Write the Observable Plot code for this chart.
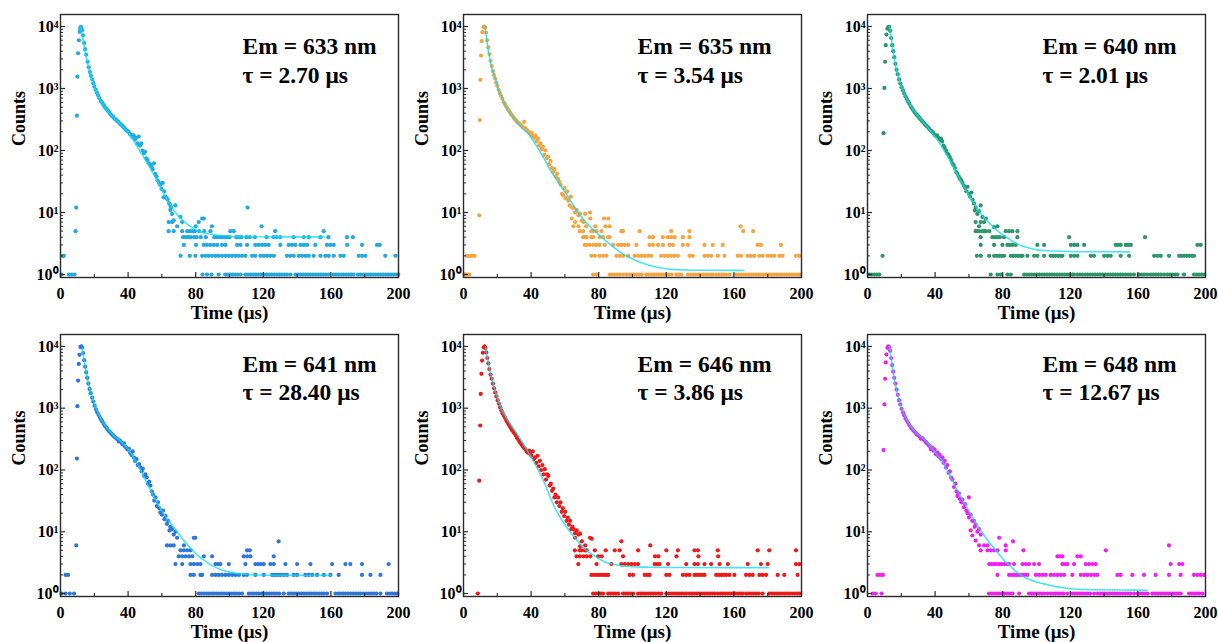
<!DOCTYPE html>
<html><head><meta charset="utf-8">
<script src="https://cdn.jsdelivr.net/npm/d3@7"></script>
<script src="https://cdn.jsdelivr.net/npm/@observablehq/plot@0.6"></script>
<style>
body{margin:0;background:#fff;}
#wrap{position:relative;width:1218px;height:642px;overflow:hidden;background:#fff;}
.panel{position:absolute;}
</style></head><body><div id="wrap"></div>
<script>
// ---------- tick values / labels ----------
const xTicks = [0, 40, 80, 120, 160, 200];
const xMinor = [20, 60, 100, 140, 180];
const yTicks = [1, 10, 100, 1000, 10000];
const yTickLabels = ["10⁰", "10¹", "10²", "10³", "10⁴"];
const yMinor = [2,3,4,5,6,7,8,9,20,30,40,50,60,70,80,90,200,300,400,500,600,700,800,900,2000,3000,4000,5000,6000,7000,8000,9000];

// ---------- panel labels ----------
const emissions = ["633", "635", "640", "641", "646", "648"];
const lifetimes = ["2.70", "3.54", "2.01", "28.40", "3.86", "12.67"];
const colors = ["#22a9e1", "#f7a440", "#2c966a", "#2e76d9", "#f01818", "#f020f0"];

// ---------- Em = 633 nm ----------
const decay633 = [[8.9,5],[9.3,12],[9.7,365],[10,1550],[10.4,3700],[10.9,6000],[11.3,8200],[11.7,9300],[12,9900],[12.4,9500],[12.8,8700],
[13.3,7200],[14,5400],[14.6,4300],[15.2,3500],[16,2700],[16.7,2200],[17.4,1850],[18,1600],[18.7,1400],[19.4,1220],[20,1080],[20.8,960],[21.5,860],[22.2,780],[23,700],[23.8,630],[24.5,600],[25.3,550],[26,515],[26.8,480],[27.5,460],[28.3,430],[29,405],[29.8,380],[30.5,360],[31.3,345],[32,325],[32.8,315],[33.5,300],[34.3,290],[35,270],[35.8,262],[36.5,250],[37.3,238],[38,228],[38.8,215],[39.5,205],[40.3,200],[41,185],[41.8,178],[42.5,165],[43.3,175],[44,150],[44.8,160],[45.5,130],[46.3,168],[47,120],[47.8,130],[48.5,100],[49.3,90],[50,95],[50.8,75],[51.5,70],[52.3,62],[53,60],[53.8,55],[54.5,50],[55.3,62],[56,42],[56.8,38],[57.5,33],[58.3,30],[59,28],[59.8,24],[60.5,30],[61.3,22],[62,18],[62.8,17],[63.5,16],[64.3,14],[65,13],[65.5,12],
[61,17.6],[65,11],[66,9.5],[68,13],[71,8.5],[64,7],[66,7],[67,7.5],[69,6],[72,7],[80,6],[81.8,7],[83.8,8],[84.8,8],[89.6,6],[110.7,12],[119,6]];
const fit633 = [[12,9800],[13,6800],[14,4800],[15,3500],[16,2600],[17,2000],[18,1600],[19,1300],[20,1080],[22,800],[24,620],[26,510],[28,430],[31,350],[34,290],[37,240],[40,195],[43,148],[46,108],[48,88],[51,65],[54,47],[57,33],[60,23],[63,16.5],[66,12],[69,9.3],[72,7.6],[75,6.5],[78,5.7],[81,5.1],[84,4.75],[88,4.5],[93,4.3],[100,4.15],[110,4.08],[130,4.05],[156,4.05]];
const ones633 = [0.6,4.9,6.5,8.3,84,86.7,89.3,93.6,97.5,99,100.5,102,103.5,105,106.5,109.4,111,112.5,114,115.5,117,118.5,120.2,122,123.5,125,126.5,128,129.5,131,132.5,134,136,139,140.5,142,143.5,145,146.5,148,149.5,151,152.5,154,155.5,157,158.5,161.6,163,164.5,166,167.5,169,170.5,172,173.4,176,177.5,179,180.5,182,183.5,185,186.5,188,189.5,191,192.5,194,195.5,197,198.5,199.8];
const twos633 = [1.2,2,71,76.5,79.8,83.8,85.8,87.7,89.7,91.7,93.6,95.6,97.6,99.6,101.5,103.5,105.5,107.4,109.4,113.4,115.3,118.3,120.3,122.2,124.2,126.2,134,136,138,141,143,145,146.9,149.8,153.8,156.7,158.7,161.7,165.6,167.6,176.5,178.4,180.4,192.2,198.2];
const threes633 = [73,80.2,84.8,86.7,88.7,90.7,92.7,95.6,97.6,104.5,106.5,110.4,115.3,117.3,119.3,121.2,123.2,130.1,135,137,139,142,144,145.9,150.8,157.7,159.7,161.7,169.6,178.4,187.3,188.9];
const fours633 = [72.5,74,75.5,77,79,80.5,83,86,91,92.5,94,95.5,97,98.5,100,104,105.5,107,110,112,115,122,126,128,130,138,144,147,153.8,158.5,169.5,173];
const fives633 = [64,67,72,75,76.5,78,79.5,82,85,88.7,100.5,102.5,127,155.7];

// ---------- Em = 635 nm ----------
const decay635 = [[9.3,9],[9.7,310],[10,1380],[10.4,3400],[10.8,5800],[11.2,8100],[11.8,9800],[12.4,10000],[12.8,9600],
[13.4,8000],[14,6000],[14.7,4600],[15.3,3600],[16,2800],[16.7,2300],[17.4,1900],[18,1650],[18.7,1450],[19.4,1250],[20,1100],[20.8,950],[21.5,840],[22.2,760],[23,680],[23.8,600],[24.5,560],[25.3,510],[26,470],[26.8,440],[27.5,410],[28.3,380],[29,360],[29.8,335],[30.5,320],[31.3,300],[32,285],[32.8,275],[33.5,262],[34.3,250],[35,240],[35.8,290],[36.5,230],[37.3,215],[38,205],[38.8,195],[39.5,185],[40.3,195],[41,170],[41.8,160],[42.5,175],[43.3,140],[44,155],[44.8,120],[45.5,130],[46.3,105],[47,115],[47.8,85],[48.5,100],[49.3,75],[50,80],[50.8,60],[51.5,68],[52.3,52],[53,45],[53.8,50],[54.5,38],[55.3,42],[56,35],[56.8,31],[57.5,28],[58.3,20],[59,19],[59.8,25],[60.5,17],[61.3,22],[62,15.6],[62.8,13],[63.5,18],[64.3,12],[65,12],[66,10],[67,11],[68,9],[69,9.5],[70,7.4],[72,9.5],
[64,8],[75,8],[83.2,8],[85.6,8],[66,7],[71,7],[65,6],[68,6],[72.5,6],[78,6],[84,6],[86.5,6],[164,6],[74.9,10]];
const fit635 = [[12.8,9900],[14,5500],[15.8,2800],[17,2000],[18.7,1500],[20.5,1000],[22.7,720],[24.5,560],[26.6,440],[29.5,340],[32.5,270],[35.5,220],[38.4,186],[40.5,155],[42.4,128],[45,98],[48.3,69],[51,50],[54.2,37],[57,28],[60,21.5],[63,16],[66,12],[69,9],[71.9,7.2],[75,5.9],[77.8,5],[80.5,4.3],[83.7,3.6],[86.5,3.1],[89.7,2.65],[92.5,2.3],[95.6,2.05],[99,1.85],[103.4,1.62],[108,1.46],[113.3,1.33],[118,1.26],[123.2,1.21],[130,1.19],[140,1.17],[150,1.17],[166,1.16]];
const ones635 = [0.6,1.5,2.5,3.5,76.7,78.7,86.5,88,89.5,91,92.5,94.4,96.4,98,99.5,101,102.5,104,105.5,108.2,109.7,111.2,112.7,114.1,115.6,117.1,118.6,120.1,121.6,123.1,125.9,127.4,128.9,132.8,134.3,135.8,137.3,138.8,140.3,141.8,143.3,144.8,146.3,147.5,149.5,151,152.5,154,155.5,157.4,161.3,162.8,164.3,165.8,167.3,168.8,170.3,171.8,173.3,174.8,176.3,177.8,179.3,180.8,182.3,183.8,185.3,186.8,188.3,189.8,191.3,192.8,194.3,195.8,197.3,198.7];
const twos635 = [2,3,4,5,6.5,75.7,77.7,80.6,82.6,84.6,90.5,92.4,94.4,97.4,101.3,103.3,105.2,107.2,109.2,111.1,117,119,121,122.9,124.9,126.9,133.7,135.7,142.6,144.6,146.5,150.5,154.4,162.3,164.2,168.2,170.1,172.1,175,177,180,182,183.9,186.9,188.8,196.7,198.7];
const threes635 = [71.8,72.8,74.7,76.7,78.7,80.6,83.6,88.5,91.5,93.4,95.4,97.4,102.3,110.1,112.1,115.1,118,121.9,123.9,129.8,132.8,142.6,147.5,153.4,174.1,176,187.8];
const fours635 = [70.8,71.8,72.8,75.7,76.7,80.6,82.6,85.6,86.5,110.1,112.1,118,121,122.9,124.9,129.8,133.7];
const fives635 = [68.8,70.8,75.7,76.7,78.7,81.6,93.4,94.4,104.2,122.9,133.7,165.5,171.4];

// ---------- Em = 640 nm ----------
const decay640 = [[9.5,190],[10,1020],[10.4,2700],[10.8,5000],[11.2,7400],[11.8,9200],[12.3,9800],[12.8,9900],
[13.4,8500],[14,6500],[14.6,5000],[15.2,4000],[15.8,3200],[16.5,2500],[17.2,2000],[17.9,1700],[18.7,1400],[19.4,1200],[20.2,1050],[21,930],[21.7,830],[22.5,750],[23.2,680],[24,620],[24.7,570],[25.5,520],[26.2,485],[27,450],[27.7,420],[28.5,395],[29.2,375],[30,355],[30.7,335],[31.5,315],[32.2,300],[33,285],[33.7,270],[34.5,255],[35.2,245],[36,232],[36.7,220],[37.5,210],[38.2,200],[39,190],[39.7,178],[40.5,172],[41.2,175],[42,160],[42.7,150],[43.5,155],[44.2,140],[45,120],[45.7,110],[46.5,100],[47.2,90],[48,85],[48.7,78],[49.5,70],[50.2,62],[51,58],[51.7,52],[52.5,45],[53.2,42],[54,38],[54.7,35],[55.5,33],[56.2,30],[57,27],[57.7,25],[58.5,22],[59.2,26],[60,20],[60.7,18],[61.5,21],[62.2,16],[63,14],[63.5,10.8],[64,12],[65,9.5],[66,10.5],[67,13],[68,8.5],[70,8],
[66,6],[76.9,6],[67,7],[69,7],[64,7],[74.9,5.8]];
const fit640 = [[12.8,9900],[13.4,8800],[14.5,5200],[15.8,3200],[17,2100],[18.7,1400],[21,930],[23.6,650],[26.5,480],[29.6,370],[32.5,295],[35.5,238],[38,195],[40.4,162],[43,128],[45.3,100],[48,75],[51.2,52],[54,37],[57.1,26],[60,19],[63,14],[66,10.5],[69,8.3],[72,6.8],[74.9,5.7],[78,4.8],[82.8,3.9],[86,3.4],[90.6,2.95],[95,2.7],[100.5,2.5],[107,2.42],[114.3,2.37],[130,2.33],[155,2.32]];
const ones640 = [1,2.5,4,5.5,7,72.9,76.9,78.9,82.8,84.8,92.7,94.2,95.7,97.2,98.7,100.2,101.7,103.2,104.7,106.2,107.7,109.2,110.7,112.2,113.7,115.2,116.7,118.2,119.7,121.2,122.2,124.2,125.7,127.2,128.7,130.2,131.7,133.2,134.7,136.2,137.7,139.2,140.7,142.2,143.7,145.2,146.7,148.2,149.7,151.2,152.7,154.2,155.7,157.7,160.7,162.2,163.7,165.6,167.6,169.1,170.6,172.1,173.6,175.5,177.5,179,180.5,182,183.4,187.3,193.2,194.7,196.2,197.7,199.1];
const twos640 = [8.9,64.7,67,72,74.9,76.4,77.9,79.4,80.8,84.8,86.3,87.8,89.3,90.8,91.7,94.6,98.6,100.5,104.5,108.4,109.9,111.4,112.9,114.4,115.3,120.3,122.3,124.2,132.1,134,140,142,143.9,149.8,154.8,169.6,171.6,173.5,178.4,184.4,185.9,187.4,188.9,190.4,191.9,193.2];
const threes640 = [67,74.9,79.8,82.8,84.3,85.8,87.7,100.5,104.5,120.3,122.3,124.2,128.2,146.9,148.4,149.8,152.8,154.3,155.8,195.2,197.2];
const fours640 = [67,73.9,75.4,76.9,78.4,80.8,88.7,119.3,164.2];
const fives640 = [64,65,66,68,69,70,72,81.8,83.7,85.7,88.7];

// ---------- Em = 641 nm ----------
const decay641 = [[9.3,6],[9.7,153],[10,1080],[10.4,2800],[10.8,5200],[11.2,7300],[11.8,9800],[12.3,10000],[12.8,9600],
[13.4,7800],[14,6000],[14.6,4700],[15.2,3800],[15.8,3100],[16.5,2500],[17.2,2050],[17.9,1750],[18.7,1480],[19.4,1280],[20.2,1100],[21,960],[21.7,860],[22.5,780],[23.2,720],[24,660],[24.7,610],[25.5,560],[26.2,520],[27,490],[27.7,460],[28.5,430],[29.2,410],[30,390],[30.7,370],[31.5,355],[32.2,340],[33,325],[33.7,315],[34.5,290],[35.2,300],[36,280],[36.7,260],[37.5,270],[38.2,240],[39,230],[39.7,215],[40.5,220],[41.2,190],[42,175],[42.7,200],[43.5,158],[44.2,140],[45,150],[45.7,120],[46.5,125],[47.2,110],[48,95],[48.7,105],[49.5,80],[50.2,85],[51,76],[51.7,60],[52.5,65],[53.2,56],[54,45],[54.7,40],[55.5,32],[56.2,36],[57,26],[57.7,30],[58.5,24],[59.1,20.6],[60,19],[60.7,22],[61.5,16],[62.2,18],[63,13.4],[63.7,15],[64.5,10.5],[65,12],[66,11],[67,9],[68,10],[69,8],
[63,6],[65,6],[67,6],[73,6],[78.9,8],[79.8,8],[129.1,7]];
const fit641 = [[12.8,9500],[14,6000],[15.8,3200],[17,2200],[18.7,1500],[21,1000],[23.6,700],[26.5,520],[29.6,410],[32.5,340],[35.5,295],[38,250],[40.4,212],[42.5,172],[44.5,140],[47,105],[49.3,78],[52,55],[55.2,37],[58,27],[61.1,19.5],[64,15],[67,11.8],[70,9.2],[72.9,7.3],[76,5.8],[78.8,4.8],[82,3.95],[86.7,3.2],[90,2.8],[94.6,2.45],[100,2.22],[106.4,2.08],[114,2.02],[122,1.98],[140,1.97],[160,1.97]];
const ones641 = [0.6,3,5.5,8,81.8,83.3,84.8,86.3,87.8,89.3,90.8,92.3,93.8,95.3,96.8,98.3,99.8,101.3,102.8,104.3,105.8,107.4,111.4,112.9,114.4,115.9,117.4,118.9,120.4,121.9,123.4,124.9,126.4,127.9,129.4,132.1,135,136.5,138,139.5,141,142.5,144,145.5,147,148.5,150,151.5,153,154.5,156,157.7,162.7,164.2,165.7,167.2,168.7,170.2,171.7,173.2,174.7,176.2,177.5,179.4,180.9,182.4,183.9,185.4,186.9,189.3,193.2,194.7,196.2,197.7,199.1];
const twos641 = [3,4.5,76.9,78.9,82.8,83.8,89.7,91.7,93.6,95.6,97.6,99.6,101.6,103.6,105.6,108.4,110.4,115.3,120.3,125.2,126.8,128.4,130.1,132.1,134,138,140,144.9,146.9,148.9,151.8,155.8,159.7,164.6,178.4,183.4,189.3];
const threes641 = [68,72,76.9,78.9,80.9,82.8,91.7,93.2,94.6,99.6,109.4,115.3,117,118.6,120.3,124.2,126.2,133.1,140,147.9,160.7,168.6,171.5,178.4,194.2];
const fours641 = [70,72,74,76,77.9,84.8,89.7,108.4,110.4,112.4,126.2];
const fives641 = [71,73,75,76.9,110.4,112];

// ---------- Em = 646 nm ----------
const decay646 = [[9.3,67],[9.9,525],[10.2,1700],[10.6,3600],[11,5900],[11.4,7900],[12,9700],[12.5,10000],[13,9400],
[13.5,8000],[14.1,6500],[14.7,5300],[15.3,4300],[16,3500],[16.7,3000],[17.4,2500],[18.1,2100],[18.8,1800],[19.5,1550],[20.2,1350],[21,1180],[21.7,1040],[22.4,920],[23.1,830],[23.8,760],[24.6,700],[25.3,640],[26,590],[26.7,550],[27.4,510],[28.1,475],[28.8,440],[29.5,415],[30.2,390],[31,360],[31.7,330],[32.4,310],[33.1,290],[33.8,270],[34.5,255],[35.2,240],[36,225],[36.7,215],[37.4,200],[38.1,190],[38.8,205],[39.5,180],[40.2,170],[41,200],[41.7,150],[42.4,160],[43.1,130],[43.8,170],[44.5,115],[45.2,140],[46,100],[46.7,120],[47.4,85],[48.1,103],[48.8,70],[49.5,85],[50.2,80],[51,56],[51.7,60],[52.4,46],[53.1,50],[53.8,36],[54.5,40],[55.2,30],[56,36],[56.7,26],[57.4,30],[58.1,21],[58.8,24],[59.5,18],[60.2,21],[61,15],[61.7,17],[62.4,13],[63.1,15],[63.8,11],[64.5,12],[65,11],[66,9.5],[67,10.5],[68,9],[69,9.3],
[93.4,7],[110.5,6],[74.9,8],[72,6],[70,7],[75.9,7.7],[66,8],[69,5.8]];
const fit646 = [[13,9700],[14,7000],[15,4900],[16.7,3100],[18.5,2000],[20.7,1300],[22.5,950],[24.6,750],[27.5,560],[30.5,430],[33.5,320],[36.5,235],[39.5,170],[42.4,124],[45.5,85],[48.3,58],[51,38],[54.2,24],[57,17.5],[60.1,13],[63,10],[66,8],[69,6.3],[72,5.2],[75,4.5],[78,4],[80.5,3.6],[83.7,3.25],[88,3],[93.6,2.8],[100,2.72],[110,2.67],[130,2.64],[160,2.63],[180.3,2.63]];
const ones646 = [8.5,76.7,78.2,79.7,81.2,82.6,85.6,87.1,88.6,90.1,91.6,94.4,95.9,97.4,98.9,100.4,103.3,104.8,106.3,107.8,109.3,110.8,112.3,113.8,115.3,117,120,121.5,123,124.5,126,127.5,129,130.5,131.8,133.7,135.2,136.7,138.2,139.7,141.2,142.7,144.2,145.7,147.2,148.7,150.5,152,153.5,155,156.5,158,159.5,161,162.5,164,165.2,167.2,168.7,170.2,171.7,173.2,174.7,177,181,182.5,184,185.5,187,188.5,190,191.5,193,194.5,196,197.5,198.7];
const twos646 = [75.7,77.2,78.7,80.2,81.7,83.2,84.6,85.6,98.3,100.3,107.2,108.7,110.1,120,121.9,129.8,131.8,133.7,136.7,138.2,139.7,141.2,142.6,149.5,151,152.5,154,155.5,157.3,160.3,167.2,169.2,171.1,175.1,177,179,185.9,189.8,197.7];
const threes646 = [67.9,78.7,87.5,93.4,95.4,97.4,99.4,101.4,103.3,113.1,114.6,116,121,131.8,136.7,138.7,142.6,146.5,151.5,156.4,168.2,176,180,196.7,198.7];
const fours646 = [66.9,68.8,71,73,75,79.7,81.8,94.4,113.3,115.3,126,139,150.7];
const fives646 = [65.9,68.8,69.8,71.8,72.8,77.7,84.2,89.5,92.4,103.3,120,126.9,136.7,138.7,150.5,174.1,180.9,196.7];

// ---------- Em = 648 nm ----------
const decay648 = [[9.5,210],[10,1150],[10.4,3000],[10.8,5500],[11.2,7400],[11.8,9500],[12.3,10000],[12.8,9700],
[13.4,8500],[14,6500],[14.6,5000],[15.2,3900],[15.8,3100],[16.5,2500],[17.2,2000],[17.9,1650],[18.7,1350],[19.4,1150],[20.2,980],[21,860],[21.7,770],[22.5,690],[23.2,630],[24,580],[24.7,535],[25.5,500],[26.2,470],[27,440],[27.7,420],[28.5,400],[29.2,380],[30,365],[30.7,350],[31.5,320],[32.2,330],[33,315],[33.7,300],[34.5,285],[35.2,270],[36,255],[36.7,245],[37.4,218],[38.2,230],[39,205],[39.7,215],[40.5,180],[41.4,192],[42,165],[42.7,175],[43.5,150],[44.3,160],[45,130],[45.7,141],[46.5,110],[47.2,120],[48,90],[48.7,95],[49.5,75],[50.2,70],[51.2,53],[52,60],[52.7,45],[53.2,38],[54,42],[54.7,34],[55.5,30],[56.2,33],[57.1,25],[57.7,28],[58.5,22],[59.2,20],[60,17],[61,19],[62,15],[63,15],[63.5,12],[64,13],[65,10],[66,11],[67,9],
[66,6],[69,6],[71,6],[81.8,6],[86.1,7],[77.9,8],[178.4,6],[67,5],[64,7.2],[62,8.7],[61,10.5],[60,36]];
const fit648 = [[12.8,9900],[13.4,8800],[14.5,5200],[15.8,3100],[17,2100],[18.7,1350],[20.5,950],[22.7,700],[25,540],[27.6,430],[30.5,365],[33.5,315],[36.5,255],[39.4,204],[42,165],[44.3,140],[47,100],[49.3,76],[52,54],[55.2,37],[58,27],[61.1,19.5],[64,14],[67,10.5],[70,8],[72.9,6.3],[76,5],[78.8,4],[81.5,3.3],[84.7,2.75],[88,2.25],[92.6,1.86],[96,1.68],[100.5,1.52],[106,1.4],[112.3,1.28],[118,1.22],[124,1.17],[135,1.15],[150,1.14],[165.5,1.13]];
const ones648 = [3,4.9,8.3,71.9,73.4,74.9,76.4,77.9,79.4,80.9,82.4,83.9,85.8,89.7,95.6,97.1,98.6,100.1,101.6,103.1,104.6,106.5,108.4,109.9,111.4,112.9,114.4,115.9,118.3,121.2,122.7,124.2,125.7,127.2,128.7,130.2,131.7,134.1,136,137.5,139,140.5,142,143.5,145,146.5,148,149.5,151,152.5,154,155.5,157.7,159.7,161.2,162.7,164.2,165.7,168.6,170.5,172,173.5,175,176.5,178,179.5,181,182.5,184,185.3,190.3,191.8,193.3,194.8,196.3,198.2];
const twos648 = [5.9,7.5,9.1,76.9,83.8,85.3,86.8,88.3,89.8,91.3,92.8,94.6,99.6,101.6,103.6,105.5,108.4,110.4,112.4,114.4,116.3,121.2,126.2,128.2,130.1,132.1,134.1,136,147.9,149.8,156.7,163.6,170.5,178.4,185.3,193.2,195.2,197.2,199.1];
const threes648 = [72,73.5,75,76.5,78,79.5,81,82.5,83.8,86.7,91.7,93.7,95.6,98.6,101.5,115.3,116.8,118.3,122.2,129.1,131.1,133.1,135,179.4,184.4,186.3];
const fours648 = [112.4,113.9,115.3,124.2,126.2];
const fives648 = [71,73,74.9,76.9,81.8,92.3,141];

// ---------- assemble ----------
const decays = [decay633, decay635, decay640, decay641, decay646, decay648];
const fits = [fit633, fit635, fit640, fit641, fit646, fit648];
const rowsets = [
  [ones633, twos633, threes633, fours633, fives633],
  [ones635, twos635, threes635, fours635, fives635],
  [ones640, twos640, threes640, fours640, fives640],
  [ones641, twos641, threes641, fours641, fives641],
  [ones646, twos646, threes646, fours646, fives646],
  [ones648, twos648, threes648, fours648, fives648]
];

// layout (pixel placement of each small multiple)
const layout = [
  {left: 0,   top: 0,   dx: 182, mb: 43, d1: 39, d2: 68},
  {left: 403, top: 0,   dx: 174, mb: 43, d1: 39, d2: 68},
  {left: 807, top: 0,   dx: 175, mb: 43, d1: 39, d2: 68},
  {left: 0,   top: 320, dx: 182, mb: 44, d1: 37, d2: 65},
  {left: 403, top: 320, dx: 174, mb: 44, d1: 37, d2: 65},
  {left: 807, top: 320, dx: 175, mb: 44, d1: 37, d2: 65}
];

const FONT = "'Liberation Serif','Times New Roman',Times,serif";
const W = 406, H = 320, ML = 60, MR = 8, MT = 14;
const wrap = document.getElementById("wrap");

emissions.forEach((em, k) => {
  const L = layout[k];
  const pts = decays[k].map(([t, c]) => ({t, c}));
  rowsets[k].forEach((arr, i) => arr.forEach(t => pts.push({t, c: i + 1})));
  const fit = fits[k].map(([t, c]) => ({t, c}));
  const fh = H - MT - L.mb; // frame height
  const fw = W - ML - MR;   // frame width
  const svg = Plot.plot({
    width: W, height: H,
    marginLeft: ML, marginRight: MR, marginTop: MT, marginBottom: L.mb,
    x: {domain: [0, 200]},
    y: {type: "log", domain: [0.895, 15600]},
    style: {fontFamily: FONT, fontWeight: "bold", fontSize: "16px", background: "none", overflow: "visible", color: "#000"},
    marks: [
      Plot.dot(pts, {x: "t", y: "c", r: 2.1, fill: colors[k], stroke: "none"}),
      Plot.line(fit, {x: "t", y: "c", stroke: "#14dce9", strokeWidth: 1.6, strokeOpacity: 0.78, curve: "monotone-x"}),
      Plot.frame({stroke: "#2a2a2a", strokeWidth: 1.4}),
      Plot.tickX(xTicks, {x: d => d, insetTop: fh - 5, stroke: "#2a2a2a", strokeWidth: 1.2}),
      Plot.tickX(xMinor, {x: d => d, insetTop: fh - 3, stroke: "#2a2a2a", strokeWidth: 1.1}),
      Plot.tickY(yTicks, {y: d => d, insetRight: fw - 5, stroke: "#2a2a2a", strokeWidth: 1.2}),
      Plot.tickY(yMinor, {y: d => d, insetRight: fw - 3, stroke: "#2a2a2a", strokeWidth: 1}),
      Plot.axisX({ticks: xTicks, tickSize: 0, tickPadding: 10, label: null, fontSize: 16, fontWeight: "bold", fill: "#000"}),
      Plot.axisY({ticks: yTicks, tickSize: 0, tickPadding: 2, label: null, fontSize: 16, fontWeight: "bold", fill: "#000",
        tickFormat: d => yTickLabels[Math.round(Math.log10(d))]}),
      Plot.text(["Counts"], {frameAnchor: "left", rotate: -90, dx: -41, fontSize: 18, fontWeight: "bold", fill: "#000"}),
      Plot.text(["Time (μs)"], {frameAnchor: "bottom", dy: 41, lineAnchor: "bottom", fontSize: 19, fontWeight: "bold", fill: "#000"}),
      Plot.text([`Em = ${em} nm`], {frameAnchor: "top-left", dx: L.dx, dy: L.d1, lineAnchor: "bottom", textAnchor: "start", fontSize: 23.5, fontWeight: "bold", fill: "#000"}),
      Plot.text([`τ = ${lifetimes[k]} μs`], {frameAnchor: "top-left", dx: L.dx, dy: L.d2, lineAnchor: "bottom", textAnchor: "start", fontSize: 23.5, fontWeight: "bold", fill: "#000"})
    ]
  });
  const div = document.createElement("div");
  div.className = "panel";
  div.style.left = L.left + "px";
  div.style.top = L.top + "px";
  div.appendChild(svg);
  wrap.appendChild(div);
});
</script>
</body></html>
